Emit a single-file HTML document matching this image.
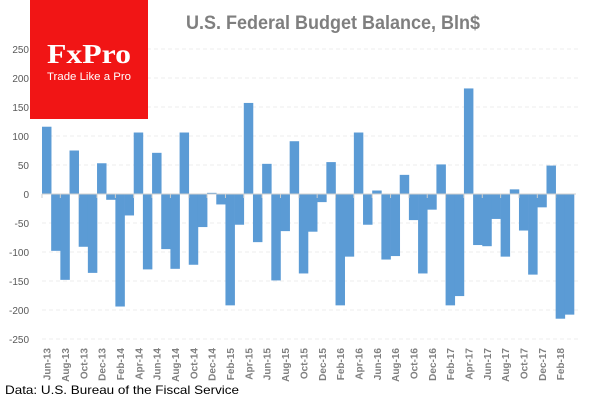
<!DOCTYPE html>
<html><head><meta charset="utf-8"><style>
body{margin:0;background:#fff;width:600px;height:400px;overflow:hidden;font-family:"Liberation Sans",sans-serif}
</style></head><body>
<svg width="600" height="400" id="chart">
<text x="186" y="29" fill="#7f7f7f" font-size="19" font-weight="bold" textLength="294" lengthAdjust="spacingAndGlyphs">U.S. Federal Budget Balance, Bln$</text>
<text x="5" y="394" fill="#000" font-size="12" textLength="234" lengthAdjust="spacingAndGlyphs">Data: U.S. Bureau of the Fiscal Service</text>
<g id="grid"></g><g id="bars"></g><g id="axes"></g>
<g>
<rect x="30" y="0" width="118" height="119" fill="#f11515"/>
<text x="47" y="63" fill="#fff" font-size="27" font-weight="bold" font-family="Liberation Serif,serif" textLength="84" lengthAdjust="spacingAndGlyphs">FxPro</text>
<text x="47" y="80" fill="#fff" font-size="11" textLength="84" lengthAdjust="spacingAndGlyphs">Trade Like a Pro</text>
</g>
</svg>
<script>
const months=["Jun-13","Jul-13","Aug-13","Sep-13","Oct-13","Nov-13","Dec-13","Jan-14","Feb-14","Mar-14","Apr-14","May-14","Jun-14","Jul-14","Aug-14","Sep-14","Oct-14","Nov-14","Dec-14","Jan-15","Feb-15","Mar-15","Apr-15","May-15","Jun-15","Jul-15","Aug-15","Sep-15","Oct-15","Nov-15","Dec-15","Jan-16","Feb-16","Mar-16","Apr-16","May-16","Jun-16","Jul-16","Aug-16","Sep-16","Oct-16","Nov-16","Dec-16","Jan-17","Feb-17","Mar-17","Apr-17","May-17","Jun-17","Jul-17","Aug-17","Sep-17","Oct-17","Nov-17","Dec-17","Jan-18","Feb-18","Mar-18"];
const balance=[116,-98,-148,75,-91,-136,53,-10,-194,-37,106,-130,71,-95,-129,106,-122,-57,2,-18,-192,-53,157,-83,52,-149,-64,91,-137,-65,-14,55,-192,-108,106,-53,6,-113,-107,33,-45,-137,-27,51,-192,-176,182,-88,-90,-43,-108,8,-63,-139,-23,49,-215,-208];
const yTicks=[250,200,150,100,50,0,-50,-100,-150,-200,-250];
const NS="http://www.w3.org/2000/svg";
const x0=42,x1=574,bw=(x1-x0)/months.length;
const y=v=>194-v*29/50;
const xc=i=>x0+bw*(i+0.5);
function mk(t,a,p){const e=document.createElementNS(NS,t);for(const k in a)e.setAttribute(k,a[k]);document.getElementById(p).appendChild(e);return e;}
yTicks.forEach(t=>{
 if(t!==0){const g=mk("line",{x1:x0,x2:578,y1:y(t),y2:y(t),stroke:"#ececec","stroke-dasharray":"4,3"},"grid");
 
 }
 const l=mk("text",{x:29,y:y(t)+4,"text-anchor":"end","font-size":"10",fill:"#595959"},"axes");
 l.textContent=t;
 
 
});
balance.forEach((v,i)=>{
 const r=mk("rect",{x:x0+bw*i,y:Math.min(y(v),y(0)),width:bw+0.3,height:Math.abs(y(v)-y(0)),fill:"#5b9bd5"},"bars");
 
 
});
const ax=mk("line",{x1:x0,x2:576,y1:y(0),y2:y(0),stroke:"#d0d0d0","stroke-width":"1"},"axes");


months.forEach((m,i)=>{
 if(i%2)return;
 const tk=mk("line",{x1:x0+bw*i,x2:x0+bw*i,y1:y(0),y2:y(0)+4,stroke:"#d0d0d0"},"axes");
 
 
 const t=mk("text",{x:0,y:0,"text-anchor":"end","font-size":"10","font-weight":"bold",fill:"#7f7f7f",transform:`translate(${xc(i)+4},348) rotate(-90)`},"axes");
 t.textContent=m;
 
 
});
</script>
</body></html>
